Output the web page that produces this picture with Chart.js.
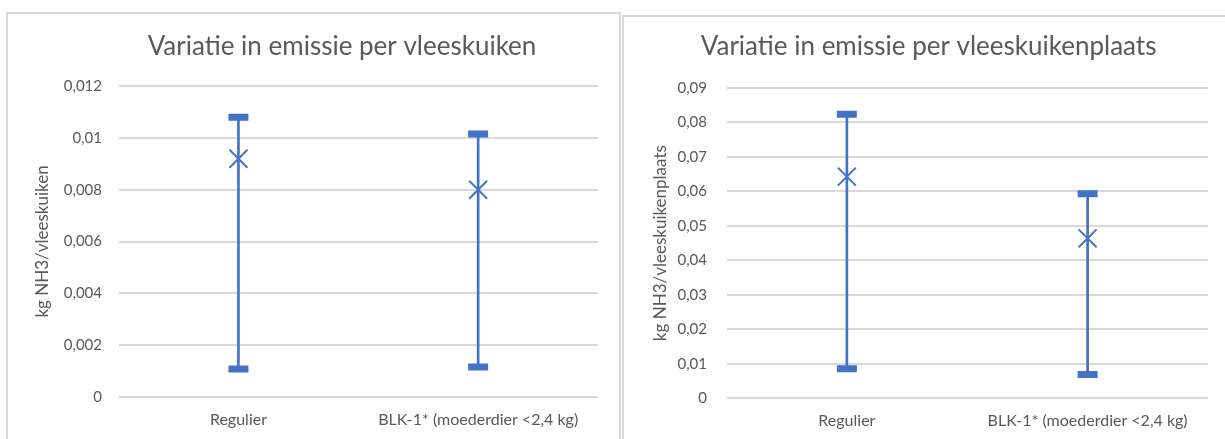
<!DOCTYPE html>
<html><head><meta charset="utf-8">
<script src="https://cdn.jsdelivr.net/npm/chart.js@4/dist/chart.umd.min.js"></script>
<style>
html,body{margin:0;padding:0;background:#fff;width:1225px;height:439px;overflow:hidden;position:relative}
.frame{position:absolute;border:2px solid #d9d9d9;box-sizing:border-box}
#f1{left:6px;top:12px;width:615px;height:440px}
#f2{left:622px;top:15px;width:620px;height:440px}
canvas{position:absolute;top:0}
#c1{left:0}
#c2{left:620px}
</style></head><body>
<div class="frame" id="f1"></div><div class="frame" id="f2"></div>
<canvas id="c1" width="664" height="439"></canvas>
<canvas id="c2" width="605" height="439"></canvas>
<script>
const BLUE = '#4472C4';
const GRID = '#d9d9d9';
const TXT = '#595959';
const FONT = 'Lato';

const categories = ['Regulier', 'BLK-1* (moederdier <2,4 kg)'];

// Chart 1: emissie per vleeskuiken
const kuikenTitle = 'Variatie in emissie per vleeskuiken';
const kuikenAxisTitle = 'kg NH3/vleeskuiken';
const kuikenLow  = [0.00107, 0.00115];
const kuikenHigh = [0.0108, 0.01016];
const kuikenMean = [0.0092, 0.0080];
const kuikenTickValues = [0, 0.002, 0.004, 0.006, 0.008, 0.01, 0.012];
const kuikenTickLabels = ['0', '0,002', '0,004', '0,006', '0,008', '0,01', '0,012'];

// Chart 2: emissie per vleeskuikenplaats
const plaatsTitle = 'Variatie in emissie per vleeskuikenplaats';
const plaatsAxisTitle = 'kg NH3/vleeskuikenplaats';
const plaatsLow  = [0.0086, 0.0069];
const plaatsHigh = [0.0824, 0.0593];
const plaatsMean = [0.0643, 0.0464];
const plaatsTickValues = [0, 0.01, 0.02, 0.03, 0.04, 0.05, 0.06, 0.07, 0.08, 0.09];
const plaatsTickLabels = ['0', '0,01', '0,02', '0,03', '0,04', '0,05', '0,06', '0,07', '0,08', '0,09'];

function makeChart(id, cfg) {
  const scales = {
    x: {
      type: 'category',
      grid: { display: false },
      border: { display: false },
      ticks: { color: TXT, font: { family: FONT, size: 16 }, padding: cfg.xPad, maxRotation: 0 },
      afterFit: s => { s.height = cfg.xH; }
    },
    y: {
      type: 'linear',
      min: cfg.ticks[0],
      max: cfg.ticks[cfg.ticks.length - 1],
      afterBuildTicks: s => { s.ticks = cfg.ticks.map(v => ({ value: v })); },
      grid: { color: GRID, lineWidth: 2, drawTicks: false },
      border: { display: false },
      ticks: { color: TXT, font: { family: FONT, size: 15 }, padding: cfg.yPad,
               callback: (v, i) => cfg.labels[i] },
      title: { display: true, text: cfg.axisTitle, color: TXT,
               font: { family: FONT, size: 17 }, padding: { top: cfg.yTitlePad, bottom: 0 } },
      afterFit: s => { s.width = cfg.yW; }
    }
  };
  if (cfg.rightW) {
    scales.yR = {
      type: 'linear', position: 'right', display: true,
      grid: { display: false }, border: { display: false }, ticks: { display: false },
      afterFit: s => { s.width = cfg.rightW; }
    };
  }
  return new Chart(document.getElementById(id), {
    type: 'bar',
    data: {
      labels: categories,
      datasets: [
        { type: 'line', data: cfg.mean, showLine: false, pointStyle: 'crossRot',
          pointRadius: 12.7, pointHoverRadius: 12.7, borderColor: BLUE, backgroundColor: BLUE, pointBorderWidth: 2 },
        { type: 'line', data: cfg.high, showLine: false, pointStyle: 'line',
          pointRadius: 10, pointHoverRadius: 10, borderColor: BLUE, backgroundColor: BLUE, pointBorderWidth: 7 },
        { type: 'line', data: cfg.low, showLine: false, pointStyle: 'line',
          pointRadius: 10, pointHoverRadius: 10, borderColor: BLUE, backgroundColor: BLUE, pointBorderWidth: 7 },
        { type: 'bar', data: cfg.low.map((l, i) => [l, cfg.high[i]]), backgroundColor: BLUE,
          barThickness: 2, borderWidth: 0 }
      ]
    },
    options: {
      responsive: false,
      animation: false,
      events: [],
      layout: { padding: { left: cfg.padL, right: cfg.padR, top: 0, bottom: 0 } },
      plugins: {
        legend: { display: false },
        tooltip: { enabled: false },
        title: { display: true, text: cfg.title, color: TXT,
                 font: { family: FONT, size: 26, weight: 'normal' },
                 padding: { top: cfg.tTop, bottom: cfg.tBottom } }
      },
      scales
    }
  });
}

makeChart('c1', {
  title: kuikenTitle, axisTitle: kuikenAxisTitle,
  low: kuikenLow, high: kuikenHigh, mean: kuikenMean,
  ticks: kuikenTickValues, labels: kuikenTickLabels,
  padL: 20, padR: 0, yW: 98.6, rightW: 66,
  yTitlePad: 12.8, yPad: 16.6,
  tTop: 31.4, tBottom: 23.7, xH: 42.3, xPad: 5.4
});
makeChart('c2', {
  title: plaatsTitle, axisTitle: plaatsAxisTitle,
  low: plaatsLow, high: plaatsHigh, mean: plaatsMean,
  ticks: plaatsTickValues, labels: plaatsTickLabels,
  padL: 24.2, padR: 12, yW: 82.3, rightW: 0,
  yTitlePad: 6.6, yPad: 19.5,
  tTop: 30.9, tBottom: 25.9, xH: 40.7, xPad: 4.8
});
</script>
</body></html>
